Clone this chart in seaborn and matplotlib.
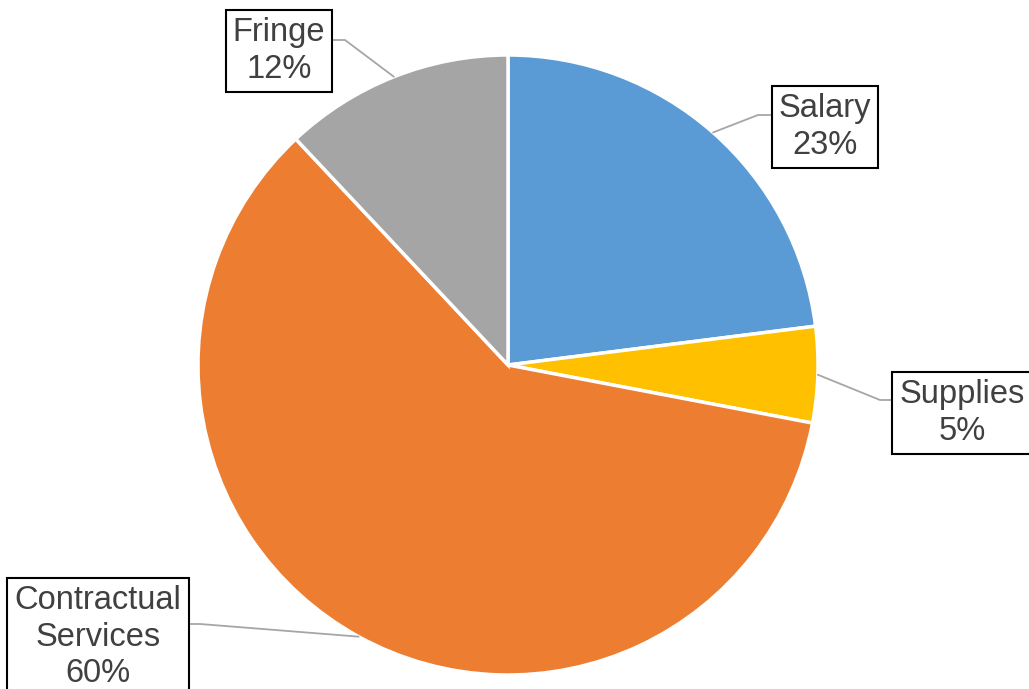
import matplotlib.pyplot as plt
import numpy as np
import seaborn as sns

# Budget shares, clockwise from 12 o'clock
categories = ["Salary", "Supplies", "Contractual\nServices", "Fringe"]
shares = [23, 5, 60, 12]
colors = ["#5B9BD5", "#FFC000", "#ED7D31", "#A5A5A5"]

# layout in pixel units (y measured upward from the bottom)
W, H = 1029, 689
CENTER = (508, H - 365)
RADIUS = 310
# label box centre, attach point on box, elbow point
label_layout = {
    "Salary": ((825, H - 127), (772, H - 115), (758, H - 115)),
    "Supplies": ((962, H - 413), (893, H - 400), (880, H - 400)),
    "Contractual\nServices": ((98, H - 637), (188, H - 624), (200, H - 624)),
    "Fringe": ((279, H - 51), (332, H - 40), (345, H - 40)),
}

sns.set_theme(style="white")
plt.rcParams["font.family"] = ["Liberation Sans", "DejaVu Sans"]

fig = plt.figure(figsize=(W / 100, H / 100), dpi=100)
ax = fig.add_axes([0, 0, 1, 1])

wedges, _ = ax.pie(
    shares,
    colors=colors,
    startangle=90,
    counterclock=False,
    center=CENTER,
    radius=RADIUS,
    wedgeprops=dict(edgecolor="white", linewidth=2.5),
)
ax.set_xlim(0, W)
ax.set_ylim(0, H)
ax.set_aspect("equal")
ax.axis("off")

for wedge, cat, share in zip(wedges, categories, shares):
    mid = np.deg2rad((wedge.theta1 + wedge.theta2) / 2)
    edge = (CENTER[0] + RADIUS * np.cos(mid), CENTER[1] + RADIUS * np.sin(mid))
    (tx, ty), attach, elbow = label_layout[cat]
    ax.plot([edge[0], elbow[0], attach[0]], [edge[1], elbow[1], attach[1]],
            color="#A6A6A6", lw=1.3, zorder=1)
    ax.text(tx, ty, f"{cat}\n{share}%", ha="center", va="center",
            fontsize=23.5, color="#404040", linespacing=1.22, zorder=3,
            bbox=dict(boxstyle="square,pad=0.22", facecolor="white",
                      edgecolor="black", linewidth=1.5))

fig.savefig("out.png", dpi=100)
plt.close(fig)
